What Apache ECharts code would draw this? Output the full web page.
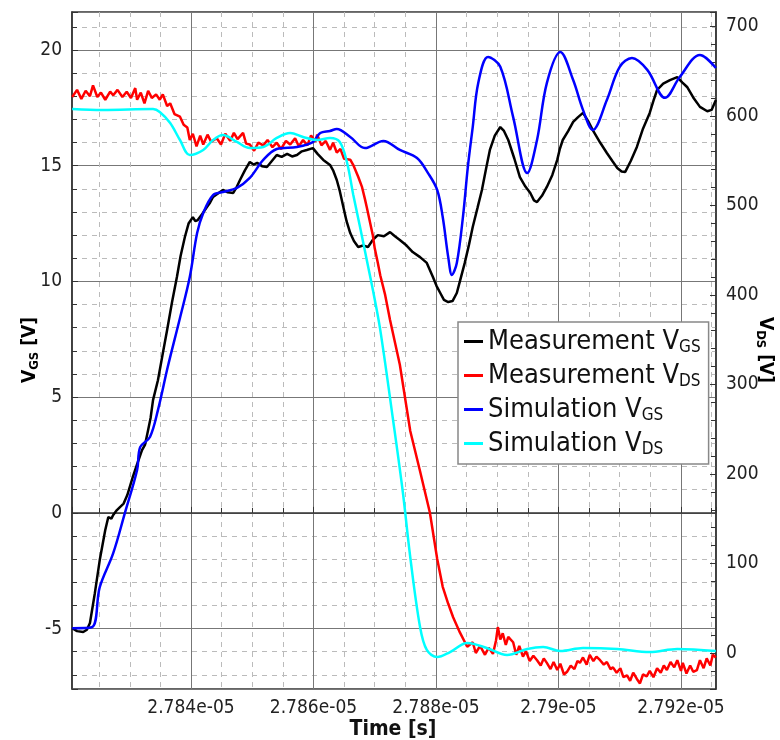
<!DOCTYPE html>
<html>
<head>
<meta charset="utf-8">
<script src="https://cdn.jsdelivr.net/npm/echarts@6/dist/echarts.min.js"></script>
<style>
  html, body { margin: 0; background: #fff; }
  #main { width: 780px; height: 740px; }
</style>
</head>
<body>
<div id="main"></div>
<script>
// time is in ns (27840 -> 2.784e-05 s)
const measVgs = [
  [27820.6,-4.98],[27821.4,-5.11],[27822.4,-5.15],[27823.0,-5.05],[27823.5,-4.76],[27824.3,-3.47],[27825.1,-2.04],[27826.0,-0.74],
  [27826.5,-0.18],[27827.0,-0.25],[27827.3,-0.09],[27827.9,0.12],[27828.4,0.25],[27829.0,0.4],[27829.6,0.77],[27830.5,1.55],
  [27831.2,2.1],[27832.0,2.71],[27832.5,2.95],[27833.0,3.58],[27833.4,4.1],[27833.8,4.87],[27834.6,5.73],[27835.4,6.9],
  [27836.1,7.9],[27836.9,9.1],[27837.7,10.19],[27838.3,11.1],[27839.0,11.92],[27839.6,12.5],[27840.3,12.78],[27840.7,12.6],
  [27841.1,12.65],[27841.8,12.9],[27842.6,13.21],[27843.1,13.4],[27843.6,13.65],[27844.4,13.8],[27845.2,13.95],[27846.0,13.85],
  [27846.9,13.82],[27847.4,14.05],[27848.0,14.38],[27848.8,14.8],[27849.6,15.16],[27850.2,15.05],[27850.8,15.12],[27851.6,14.98],
  [27852.4,14.94],[27853.2,15.2],[27854.0,15.46],[27854.8,15.38],[27855.7,15.51],[27856.5,15.4],[27857.3,15.46],[27858.1,15.62],
  [27858.9,15.68],[27859.9,15.76],[27860.7,15.5],[27861.6,15.25],[27862.7,15.03],[27863.2,14.8],[27863.8,14.38],[27864.3,13.9],
  [27864.8,13.3],[27865.4,12.6],[27866.0,12.09],[27866.6,11.75],[27867.3,11.49],[27868.1,11.55],[27868.9,11.49],[27869.7,11.8],
  [27870.5,12.0],[27871.5,11.95],[27872.5,12.13],[27873.3,11.95],[27874.1,11.79],[27875.2,11.55],[27876.2,11.27],[27877.4,11.05],
  [27878.5,10.8],[27879.5,10.19],[27880.1,9.8],[27880.7,9.5],[27881.3,9.2],[27882.0,9.11],[27882.7,9.15],[27883.4,9.5],
  [27884.0,10.1],[27884.7,10.8],[27885.4,11.6],[27886.0,12.35],[27886.8,13.2],[27887.5,13.95],[27888.2,14.9],[27888.8,15.68],
  [27889.6,16.3],[27890.5,16.67],[27891.1,16.5],[27891.8,16.11],[27892.8,15.3],[27893.7,14.51],[27894.6,14.1],[27895.4,13.82],
  [27896.0,13.5],[27896.5,13.43],[27897.3,13.7],[27898.1,14.08],[27899.0,14.6],[27899.8,15.25],[27900.2,15.7],[27900.7,16.11],
  [27901.6,16.5],[27902.4,16.89],[27903.2,17.1],[27904.0,17.28],[27904.8,16.95],[27905.6,16.54],[27906.8,16.0],[27907.9,15.55],
  [27908.8,15.2],[27909.6,14.9],[27910.3,14.75],[27910.9,14.73],[27911.8,15.2],[27912.8,15.81],[27913.8,16.6],[27914.9,17.28],
  [27915.5,17.8],[27916.1,18.27],[27917.1,18.55],[27918.2,18.7],[27919.4,18.83],[27920.2,18.6],[27921.0,18.4],[27922.0,17.95],
  [27923.1,17.54],[27924.3,17.35],[27925.0,17.41],[27925.7,17.84]
];

const measVds = [
  [27820.6,621],[27821.4,629],[27822.1,619],[27822.8,628],[27823.5,622],[27824.0,634],[27824.7,621],[27825.3,626],
  [27826.0,618],[27826.8,627],[27827.3,623],[27828.0,629],[27828.8,621],[27829.5,627],[27830.2,620],[27830.9,631],
  [27831.2,618],[27831.8,626],[27832.4,614],[27833.0,628],[27833.6,620],[27834.3,624],[27834.9,618],[27835.4,624],
  [27836.1,611],[27836.6,614],[27837.3,602],[27838.2,599],[27838.8,590],[27839.4,587],[27839.8,573],[27840.3,580],
  [27840.9,566],[27841.5,578],[27842.0,568],[27842.7,579],[27843.3,571],[27844.2,575],[27844.9,568],[27845.6,580],
  [27846.4,572],[27847.0,581],[27847.6,574],[27848.5,581],[27849.0,569],[27849.6,568],[27850.3,561],[27851.0,570],
  [27851.8,567],[27852.5,573],[27853.3,565],[27854.0,570],[27854.7,563],[27855.5,572],[27856.2,568],[27857.0,575],
  [27857.6,566],[27858.3,573],[27859.0,567],[27859.6,578],[27860.3,571],[27860.6,579],[27861.3,567],[27862.0,572],
  [27862.7,562],[27863.2,570],[27863.8,559],[27864.4,563],[27865.0,552],[27866.0,551],[27866.5,545],[27867.3,532],
  [27867.9,521],[27868.4,507],[27868.7,498],[27869.2,482],[27869.7,466],[27870.0,452],[27870.5,436],[27870.9,422],
  [27871.7,400],[27872.5,372],[27874.1,322],[27875.8,248],[27877.4,203],[27879.0,157],[27880.2,105],[27881.1,74],
  [27882.0,55],[27882.8,40],[27883.9,23],[27885.1,7],[27886.0,12],[27886.5,0],[27887.2,8],[27888.0,-2],
  [27888.6,6],[27889.3,-1],[27889.8,14],[27890.1,29],[27890.5,15],[27890.9,22],[27891.4,9],[27891.8,18],
  [27892.6,12],[27893.1,-2],[27893.6,8],[27894.2,-4],[27894.7,2],[27895.3,-9],[27895.9,-3],[27896.5,-8],
  [27897.1,-14],[27897.6,-6],[27898.1,-11],[27898.7,-18],[27899.2,-10],[27899.8,-19],[27900.3,-12],[27900.9,-24],
  [27901.4,-21],[27902.0,-14],[27902.6,-18],[27903.1,-9],[27903.5,-11],[27904.0,-5],[27904.6,-13],[27905.1,-2],
  [27905.7,-9],[27906.2,-4],[27906.8,-8],[27907.4,-13],[27907.9,-10],[27908.5,-18],[27908.9,-16],[27909.5,-22],
  [27910.1,-17],[27910.6,-27],[27911.2,-25],[27911.7,-31],[27912.2,-22],[27912.8,-29],[27913.3,-34],[27913.8,-24],
  [27914.4,-26],[27914.9,-20],[27915.5,-27],[27916.1,-17],[27916.7,-22],[27917.2,-14],[27917.7,-19],[27918.3,-10],
  [27918.9,-16],[27919.4,-8],[27920.0,-20],[27920.3,-11],[27920.9,-23],[27921.5,-14],[27922.0,-21],[27922.6,-19],
  [27923.1,-8],[27923.7,-17],[27924.2,-6],[27924.8,-14],[27925.2,-2],[27925.7,-5]
];

const simVgs = [
  [27820.6,-4.98],[27823.8,-4.94],[27825.1,-3.21],[27827.3,-1.74],[27829.2,-0.01],[27831.2,1.85],[27831.7,2.84],[27833.3,3.28],
  [27834.6,4.44],[27836.2,6.3],[27838.2,8.42],[27839.8,10.19],[27841.0,12.09],[27842.0,12.96],[27843.6,13.73],[27845.2,13.86],
  [27847.5,14.04],[27849.6,14.47],[27851.8,15.25],[27854.0,15.72],[27857.3,15.81],[27859.9,16.02],[27861.1,16.41],[27862.7,16.5],
  [27863.8,16.59],[27866.0,16.24],[27868.4,15.76],[27871.4,16.07],[27874.1,15.68],[27876.9,15.33],[27878.7,14.68],[27880.2,13.95],
  [27881.1,12.78],[27882.0,11.05],[27882.6,10.28],[27883.4,10.8],[27884.4,12.78],[27885.2,14.94],[27886.0,16.67],[27886.9,18.57],
  [27888.5,19.7],[27890.5,19.27],[27892.6,17.1],[27894.9,14.68],[27896.5,16.11],[27898.1,18.57],[27900.3,19.91],[27902.4,18.7],
  [27904.0,17.41],[27905.6,16.54],[27907.9,17.84],[27910.0,19.27],[27912.0,19.65],[27914.5,19.14],[27917.4,17.93],[27919.8,18.83],
  [27923.1,19.78],[27925.7,19.22]
];

const simVds = [
  [27820.6,607.6],[27825.6,606.5],[27833.8,607.6],[27834.9,604.3],[27836.6,592.0],[27838.2,573.0],[27839.8,556.3],[27842.0,561.9],
  [27843.6,573.0],[27845.2,578.6],[27847.5,570.8],[27849.6,564.1],[27851.8,565.2],[27854.0,575.3],[27856.2,580.8],[27858.3,576.4],
  [27860.6,573.0],[27862.7,575.3],[27864.3,570.8],[27865.5,547],[27866.5,511.6],[27867.6,475.8],[27868.7,439],[27869.7,405.5],
  [27870.9,361],[27873.0,260],[27874.6,179],[27875.8,107],[27877.4,29],[27878.5,3.4],[27880.2,-4.5],[27882.3,1.1],
  [27885.1,11.2],[27888.3,5.6],[27891.6,-2.2],[27894.9,4.5],[27897.5,6.7],[27900.3,2.2],[27904.0,5.6],[27909.6,4.5],
  [27914.9,1.1],[27919.4,4.5],[27925.7,2.2]
];

const seriesNames = ['Measurement VGS', 'Measurement VDS', 'Simulation VGS', 'Simulation VDS'];
const seriesColors = ['#000000', '#ff0000', '#0000ff', '#00ffff'];

const FONT = '"DejaVu Sans Condensed", "Liberation Sans", sans-serif';

const chart = echarts.init(document.getElementById('main'));

function axisCommon() {
  return {
    type: 'value',
    axisLine: { show: true, lineStyle: { color: '#333', width: 1.5 } },
    axisTick: { inside: true, length: 6, lineStyle: { color: '#333' } },
    minorTick: { show: true, length: 5, lineStyle: { color: '#333' } },
    axisLabel: {
      showMinLabel: false, showMaxLabel: false,
      fontSize: 19, color: '#222', fontFamily: FONT, margin: 10
    }
  };
}

const xAxis = axisCommon();
Object.assign(xAxis, {
  min: 27820.57, max: 27925.72, splitNumber: 5,
  splitLine: { show: true, lineStyle: { color: '#777' } },
  minorSplitLine: { show: true, lineStyle: { color: '#bbb', type: [5, 5] } }
});
xAxis.minorTick.splitNumber = 4;
xAxis.axisLabel.formatter = v => parseFloat((v / 10000).toFixed(4)) + 'e-05';

const yLeft = axisCommon();
Object.assign(yLeft, {
  min: -7.61, max: 21.64, splitNumber: 6,
  splitLine: { show: true, lineStyle: { color: '#777' } },
  minorSplitLine: { show: true, lineStyle: { color: '#bbb', type: [5, 5] } }
});
yLeft.minorTick.splitNumber = 5;

const yRight = axisCommon();
Object.assign(yRight, {
  position: 'right',
  min: -40.2, max: 716, splitNumber: 7,
  splitLine: { show: false }
});
yRight.minorTick.splitNumber = 5;

const sub = { fontSize: 13, fontWeight: 'bold', fontFamily: FONT, padding: [10, 0, 0, 0], color: '#111' };
const big = { fontSize: 19, fontWeight: 'bold', fontFamily: FONT, color: '#111' };

chart.setOption({
  animation: false,
  backgroundColor: '#fff',
  grid: { left: 72, right: 64, top: 12, bottom: 51, show: true, borderColor: '#333', borderWidth: 1.5 },
  xAxis: xAxis,
  yAxis: [yLeft, yRight],
  legend: {
    orient: 'vertical',
    left: 458, top: 322,
    backgroundColor: '#fff',
    borderColor: '#888', borderWidth: 1.5, borderRadius: 0,
    padding: [6, 8, 6, 6],
    itemGap: 6, itemWidth: 19, itemHeight: 3,
    icon: 'rect',
    data: seriesNames,
    formatter: name => name.replace(/V(GS|DS)$/, 'V{s|$1}'),
    textStyle: {
      fontSize: 27, fontFamily: FONT, color: '#111', lineHeight: 27,
      rich: { s: { fontSize: 17, fontFamily: FONT, color: '#111', padding: [12, 0, 0, 0] } }
    }
  },
  graphic: [
    {
      type: 'text', x: 30, y: 350, rotation: Math.PI / 2,
      style: { text: '{b|V}{s|GS}{b| [V]}', rich: { b: big, s: sub }, align: 'center', verticalAlign: 'middle' }
    },
    {
      type: 'text', x: 765, y: 350, rotation: -Math.PI / 2,
      style: { text: '{b|V}{s|DS}{b| [V]}', rich: { b: big, s: sub }, align: 'center', verticalAlign: 'middle' }
    },
    {
      type: 'text', x: 393, y: 730,
      style: { text: 'Time [s]', font: 'bold 21px ' + FONT, fill: '#111', align: 'center', verticalAlign: 'middle' }
    }
  ],
  series: [
    { name: seriesNames[0], type: 'line', yAxisIndex: 0, data: measVgs, showSymbol: false, lineStyle: { width: 2.5, color: seriesColors[0] }, itemStyle: { color: seriesColors[0] } },
    { name: seriesNames[1], type: 'line', yAxisIndex: 1, data: measVds, showSymbol: false, lineStyle: { width: 2.5, color: seriesColors[1] }, itemStyle: { color: seriesColors[1] } },
    { name: seriesNames[2], type: 'line', yAxisIndex: 0, data: simVgs, showSymbol: false, smooth: 0.35, lineStyle: { width: 2.5, color: seriesColors[2] }, itemStyle: { color: seriesColors[2] } },
    { name: seriesNames[3], type: 'line', yAxisIndex: 1, data: simVds, showSymbol: false, smooth: 0.35, lineStyle: { width: 2.5, color: seriesColors[3] }, itemStyle: { color: seriesColors[3] } }
  ]
});
</script>
</body>
</html>
